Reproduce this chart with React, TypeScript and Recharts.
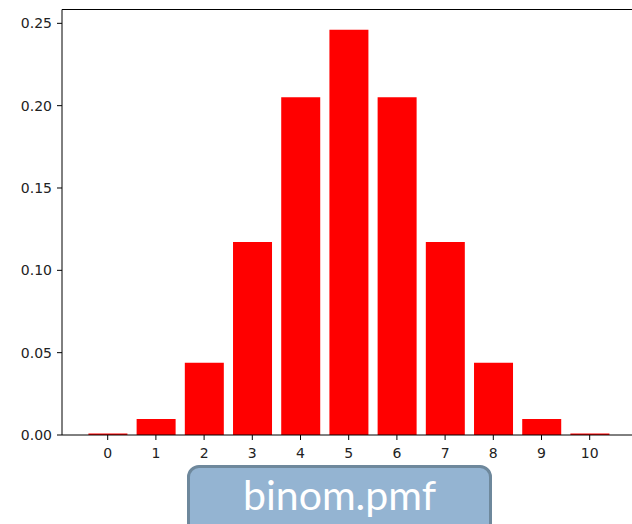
import { Bar, BarChart, ReferenceLine, XAxis, YAxis } from "recharts";

// binomial pmf, n = 10, p = 0.5
const outcomes = ["0", "1", "2", "3", "4", "5", "6", "7", "8", "9", "10"];
const probabilities = [0.000977, 0.00977, 0.0439, 0.1172, 0.2051, 0.2461, 0.2051, 0.1172, 0.0439, 0.00977, 0.000977];
const yTicks = [0, 0.05, 0.1, 0.15, 0.2, 0.25];
const yMax = 0.2584;

const data = outcomes.map((k, i) => ({ k, p: probabilities[i] }));

const tickStyle = { fill: "#222", fontSize: 14, fontFamily: "DejaVu Sans" };

export default function App() {
  return (
    <div style={{ position: "fixed", left: 0, top: 0, width: 632, height: 524, overflow: "hidden", background: "#fff" }}>
      {/* plot area runs past the right edge, so no right spine shows */}
      <BarChart
        width={660}
        height={524}
        data={data}
        margin={{ top: 9.5, right: 5, bottom: 0, left: 0 }}
        barCategoryGap="10%"
      >
        <XAxis
          dataKey="k"
          height={89}
          padding={{ left: 21.6, right: 41.2 }}
          tick={tickStyle}
          tickSize={5}
          tickMargin={8}
          stroke="#000"
          tickLine={{ stroke: "#000" }}
          interval={0}
        />
        <YAxis
          width={62}
          domain={[0, yMax]}
          ticks={yTicks}
          tickFormatter={(v: number) => v.toFixed(2)}
          tick={tickStyle}
          tickSize={5}
          tickMargin={5}
          stroke="#000"
          allowDataOverflow
        />
        {/* top spine */}
        <ReferenceLine y={yMax} stroke="#000" strokeWidth={1} />
        <Bar dataKey="p" fill="#ff0000" isAnimationActive={false} />
      </BarChart>
      <div
        style={{
          position: "absolute",
          left: 187,
          top: 465,
          width: 305,
          height: 80,
          boxSizing: "border-box",
          background: "#94b4d2",
          border: "3px solid #6e889c",
          borderRadius: 12,
          color: "#fff",
          fontFamily: "Lato",
          fontSize: 41,
          textAlign: "center",
          lineHeight: "54px",
        }}
      >
        binom.pmf
      </div>
    </div>
  );
}
